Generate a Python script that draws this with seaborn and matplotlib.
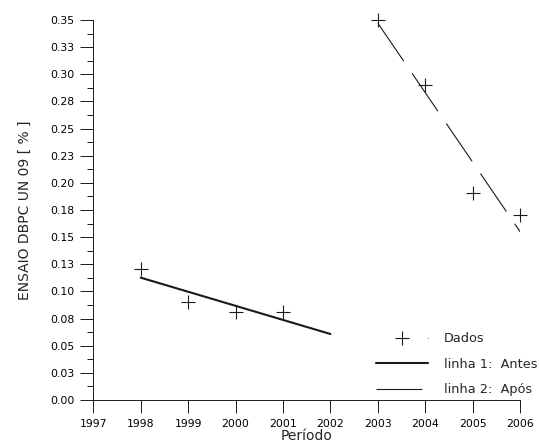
import numpy as np
import pandas as pd
import matplotlib
matplotlib.use("Agg")
import matplotlib.pyplot as plt
from matplotlib.lines import Line2D
import seaborn as sns

# Dados
anos_dados = [1998, 1999, 2000, 2001, 2003, 2004, 2005, 2006]
valores_dados = [0.1204, 0.0905, 0.0813, 0.0807, 0.3500, 0.2900, 0.1910, 0.1700]

# linha 1 (antes) e linha 2 (após)
linha1_x = [1998, 2002]
linha1_y = [0.1127, 0.0608]
linha2_x = [2003, 2006]
linha2_y = [0.3470, 0.1550]

# eixos
anos_ticks = list(range(1997, 2007))
y_ticks = [0.0, 0.025, 0.05, 0.075, 0.10, 0.125, 0.15, 0.175, 0.20, 0.225,
           0.25, 0.275, 0.30, 0.325, 0.35]
y_labels = ["0.00", "0.03", "0.05", "0.08", "0.10", "0.13", "0.15", "0.18",
            "0.20", "0.23", "0.25", "0.28", "0.30", "0.33", "0.35"]

sns.set_style("ticks")
plt.rcParams["font.family"] = ["DejaVu Sans"]
plt.rcParams["lines.scale_dashes"] = False

cor = "#1a1a1a"

fig = plt.figure(figsize=(5.39, 4.43), dpi=100)
ax = fig.add_axes([0.173, 0.097, 0.792, 0.858])

df = pd.DataFrame({"Periodo": anos_dados, "valor": valores_dados})
sns.scatterplot(data=df, x="Periodo", y="valor", marker="+", s=90,
                color=cor, linewidth=0.8, ax=ax, legend=False, zorder=3,
                clip_on=False)

sns.lineplot(x=linha1_x, y=linha1_y, color=cor, linewidth=1.5, ax=ax)
sns.lineplot(x=linha2_x, y=linha2_y, color=cor, linewidth=0.8, ax=ax)
ax.lines[-1].set_dashes((33, 10.7))

ax.set_xlim(1997, 2006)
ax.set_ylim(0, 0.35)
ax.set_xticks(anos_ticks)
ax.set_xticklabels([str(a) for a in anos_ticks])
ax.set_yticks(y_ticks)
ax.set_yticklabels(y_labels)
ax.set_yticks(np.arange(0.0125, 0.35, 0.025), minor=True)

ax.tick_params(axis="both", which="major", length=9.5, width=0.7, color=cor,
               labelsize=7.8, labelcolor="black")
ax.tick_params(axis="y", which="major", pad=3.8)
ax.tick_params(axis="x", which="major", length=9, pad=4.5)
ax.tick_params(axis="y", which="minor", length=4.3, width=0.7, color=cor)
for s in ["left", "bottom"]:
    ax.spines[s].set_linewidth(0.7)
    ax.spines[s].set_color(cor)
sns.despine(ax=ax)

ax.set_xlabel("Período", fontsize=10, labelpad=0)
ax.set_ylabel("ENSAIO DBPC UN 09 [ % ]", fontsize=10, labelpad=13)

# legenda
h_dados = Line2D([], [], color=cor, marker="+", markersize=10.5, markeredgewidth=0.8,
                 linewidth=0.8, dashes=(0.01, 37, 0.8, 50))
h_l1 = Line2D([], [], color=cor, linewidth=1.5)
h_l2 = Line2D([], [], color=cor, linewidth=0.8, dashes=(33, 4.6, 0.8, 50))
fig.legend([h_dados, h_l1, h_l2], ["Dados", "linha 1:  Antes", "linha 2:  Após"],
           loc="center left", bbox_to_anchor=(0.6976, 0.1777), frameon=False,
           fontsize=9.3, handlelength=4.05, handletextpad=1.2, borderpad=0,
           borderaxespad=0, labelspacing=0.97)

fig.savefig("out.png", dpi=100)
